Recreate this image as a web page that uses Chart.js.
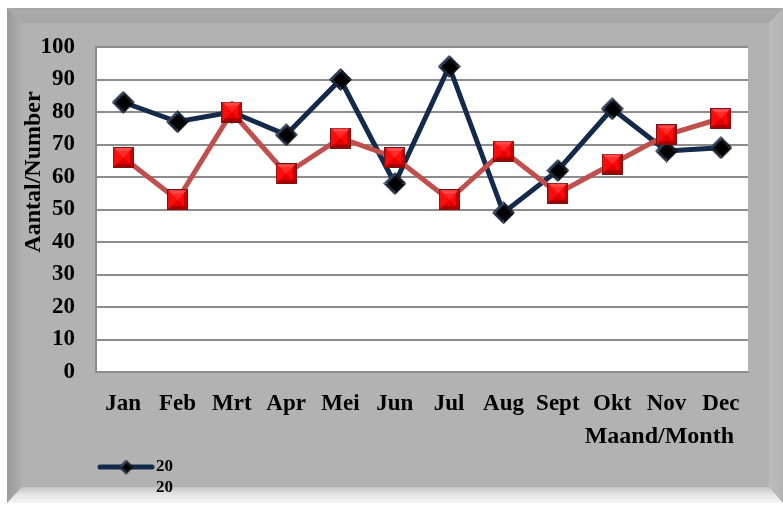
<!DOCTYPE html>
<html>
<head>
<meta charset="utf-8">
<script src="https://cdn.jsdelivr.net/npm/chart.js@4.4.1/dist/chart.umd.min.js"></script>
<style>
  html, body { margin: 0; padding: 0; background: #ffffff; }
  #wrap { width: 783px; height: 505px; position: relative; }
</style>
</head>
<body>
<div id="wrap"><canvas id="monthChart" width="783" height="505"></canvas></div>
<script>
// Monthly counts
const months = ['Jan', 'Feb', 'Mrt', 'Apr', 'Mei', 'Jun', 'Jul', 'Aug', 'Sept', 'Okt', 'Nov', 'Dec'];
const seriesA = [83, 77, 80, 73, 90, 58, 94, 49, 62, 81, 68, 69];
const seriesB = [66, 53, 80, 61, 72, 66, 53, 68, 55, 64, 73, 78];
const yTicks = [0, 10, 20, 30, 40, 50, 60, 70, 80, 90, 100];
const legendLines = ['20', '20'];

const FONT = "'Liberation Serif', 'Times New Roman', serif";
const NAVY = '#142a4a';
const RED_LINE = '#c0504d';

// bevelled marker images
function makeSquare(size) {
    const c = document.createElement('canvas');
    c.width = c.height = size;
    const g = c.getContext('2d');
    const b = 3, m = size / 2;
    g.fillStyle = '#7a1414';
    g.fillRect(0, 0, size, size);
    const tri = (pts, col) => {
        g.beginPath();
        g.moveTo(pts[0][0], pts[0][1]);
        for (let i = 1; i < pts.length; i++) g.lineTo(pts[i][0], pts[i][1]);
        g.closePath();
        g.fillStyle = col;
        g.fill();
    };
    const a = 1, z = size - 1;
    tri([[a, a], [z, a], [m, m]], '#ff4a4a');
    tri([[a, a], [a, z], [m, m]], '#f01010');
    tri([[z, a], [z, z], [m, m]], '#c80000');
    tri([[a, z], [z, z], [m, m]], '#a80000');
    g.fillStyle = '#ff0a0a';
    g.fillRect(b + 1, b + 1, size - 2 * b - 2, size - 2 * b - 2);
    tri([[b + 1, b + 1], [size - b - 1, b + 1], [m, m]], '#ff2a2a');
    tri([[b + 1, size - b - 1], [size - b - 1, size - b - 1], [m, m]], '#e00000');
    return c;
}

function makeDiamond(size) {
    const c = document.createElement('canvas');
    c.width = c.height = size;
    const g = c.getContext('2d');
    const m = size / 2;
    const tri = (pts, col) => {
        g.beginPath();
        g.moveTo(pts[0][0], pts[0][1]);
        for (let i = 1; i < pts.length; i++) g.lineTo(pts[i][0], pts[i][1]);
        g.closePath();
        g.fillStyle = col;
        g.fill();
    };
    tri([[0, m], [m, 0], [m, m]], '#2c405c');
    tri([[m, 0], [size, m], [m, m]], '#151c26');
    tri([[size, m], [m, size], [m, m]], '#05080c');
    tri([[m, size], [0, m], [m, m]], '#1c2a3c');
    const r = m - 4;
    tri([[m - r, m], [m, m - r], [m + r, m], [m, m + r]], '#000000');
    return c;
}

const squareImg = makeSquare(21);
const diamondImg = makeDiamond(23);
const diamondSmall = makeDiamond(15);

// grey bevelled frame, white plot area, titles and legend
const framePlugin = {
    id: 'frame',
    beforeDraw(chart) {
        const ctx = chart.ctx;
        const L = 7, T = 8, R = 783, B = 503;
        ctx.save();
        ctx.fillStyle = '#ffffff';
        ctx.fillRect(0, 0, chart.width, chart.height);
        ctx.fillStyle = '#b2b2b2';
        ctx.fillRect(L, T, R - L, B - T);

        // top bevel
        let gr = ctx.createLinearGradient(0, T, 0, T + 15);
        gr.addColorStop(0, '#a4a4a4');
        gr.addColorStop(0.2, '#aaaaaa');
        gr.addColorStop(1, '#a7a7a7');
        ctx.fillStyle = gr;
        ctx.beginPath();
        ctx.moveTo(L, T); ctx.lineTo(R, T); ctx.lineTo(R - 14, T + 15); ctx.lineTo(L + 15, T + 15);
        ctx.closePath(); ctx.fill();

        // left bevel
        gr = ctx.createLinearGradient(L, 0, L + 15, 0);
        gr.addColorStop(0, '#9a9a9a');
        gr.addColorStop(0.4, '#a2a2a2');
        gr.addColorStop(1, '#b0b0b0');
        ctx.fillStyle = gr;
        ctx.beginPath();
        ctx.moveTo(L, T); ctx.lineTo(L + 15, T + 15); ctx.lineTo(L + 15, B - 16); ctx.lineTo(L, B);
        ctx.closePath(); ctx.fill();

        // right bevel
        gr = ctx.createLinearGradient(R - 14, 0, R, 0);
        gr.addColorStop(0, '#bdbdbd');
        gr.addColorStop(1, '#b4b4b4');
        ctx.fillStyle = gr;
        ctx.beginPath();
        ctx.moveTo(R, T); ctx.lineTo(R, B); ctx.lineTo(R - 14, B - 16); ctx.lineTo(R - 14, T + 15);
        ctx.closePath(); ctx.fill();

        // bottom bevel
        gr = ctx.createLinearGradient(0, B - 16, 0, B);
        gr.addColorStop(0, '#c4c4c4');
        gr.addColorStop(0.5, '#e6e6e6');
        gr.addColorStop(1, '#f4f4f4');
        ctx.fillStyle = gr;
        ctx.beginPath();
        ctx.moveTo(L, B); ctx.lineTo(L + 15, B - 16); ctx.lineTo(R - 14, B - 16); ctx.lineTo(R, B);
        ctx.closePath(); ctx.fill();

        // plot area
        const a = chart.chartArea;
        ctx.fillStyle = '#ffffff';
        ctx.fillRect(a.left, a.top, a.right - a.left, a.bottom - a.top);
        ctx.restore();
    },
    afterDraw(chart) {
        const ctx = chart.ctx;
        ctx.save();
        ctx.fillStyle = '#000000';
        ctx.font = 'bold 24px ' + FONT;

        // y axis title
        ctx.save();
        ctx.translate(34, 172);
        ctx.rotate(-Math.PI / 2);
        ctx.textAlign = 'center';
        ctx.textBaseline = 'middle';
        ctx.fillText('Aantal/Number', 0, 0);
        ctx.restore();

        // x axis title
        ctx.textAlign = 'right';
        ctx.textBaseline = 'middle';
        ctx.fillText('Maand/Month', 734, 437);

        // legend for the first series
        const ly = 467;
        ctx.strokeStyle = NAVY;
        ctx.lineWidth = 5;
        ctx.lineCap = 'round';
        ctx.beginPath();
        ctx.moveTo(100, ly);
        ctx.lineTo(152, ly);
        ctx.stroke();
        ctx.drawImage(diamondSmall, 126 - 7.5, ly - 7.5);
        ctx.font = 'bold 17px ' + FONT;
        ctx.textAlign = 'left';
        legendLines.forEach((t, i) => ctx.fillText(t, 156, ly + i * 21));
        ctx.restore();
    }
};

const ctx = document.getElementById('monthChart').getContext('2d');
new Chart(ctx, {
    type: 'line',
    data: {
        labels: months,
        datasets: [
            {
                label: '2020',
                data: seriesA,
                borderColor: NAVY,
                borderWidth: 5,
                pointStyle: diamondImg,
                order: 1
            },
            {
                label: '2021',
                data: seriesB,
                borderColor: RED_LINE,
                borderWidth: 5,
                pointStyle: squareImg,
                order: 0
            }
        ]
    },
    options: {
        responsive: false,
        animation: false,
        events: [],
        layout: { padding: { left: 0, top: 47, right: 35, bottom: 0 } },
        elements: { line: { tension: 0 } },
        plugins: {
            legend: { display: false },
            tooltip: { enabled: false }
        },
        scales: {
            x: {
                offset: true,
                grid: { display: false, drawTicks: false },
                border: { display: true, color: '#8c8c8c', width: 2 },
                ticks: {
                    color: '#000000',
                    padding: 18,
                    maxRotation: 0,
                    autoSkip: false,
                    font: { family: FONT, size: 23, weight: 'bold' }
                },
                afterFit(scale) { scale.height = 133; }
            },
            y: {
                min: 0,
                max: 100,
                afterBuildTicks(scale) { scale.ticks = yTicks.map(v => ({ value: v })); },
                grid: { color: '#8c8c8c', lineWidth: 2, drawTicks: false },
                border: { display: true, color: '#8c8c8c', width: 2 },
                ticks: {
                    color: '#000000',
                    padding: 21,
                    font: { family: FONT, size: 23, weight: 'bold' }
                },
                afterFit(scale) { scale.width = 96; }
            }
        }
    },
    plugins: [framePlugin]
});
</script>
</body>
</html>
